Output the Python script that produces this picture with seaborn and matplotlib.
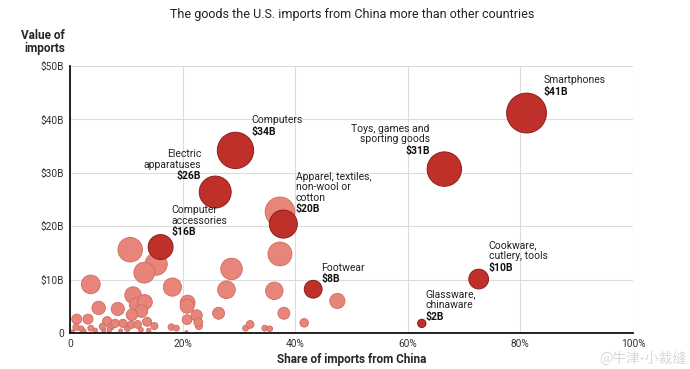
import pandas as pd
import numpy as np
import matplotlib
matplotlib.use("Agg")
import matplotlib.pyplot as plt
import seaborn as sns

# highlighted goods
hl_names = ["Smartphones", "Toys, games and\nsporting goods", "Computers", "Electric\napparatuses",
            "Apparel, textiles,\nnon-wool or\ncotton", "Computer\naccessories", "Footwear",
            "Cookware,\ncutlery, tools", "Glassware,\nchinaware"]
hl_labels = ["$41B", "$31B", "$34B", "$26B", "$20B", "$16B", "$8B", "$10B", "$2B"]
hl_share = [81.1, 66.5, 29.4, 25.8, 37.9, 16.1, 43.2, 72.6, 62.5]
hl_value = [41.2, 30.7, 34.2, 26.4, 20.4, 16.1, 8.2, 10.1, 1.8]
# label anchor (x in %, y boundary between name and value), alignment
lab_x = [84.2, 63.9, 32.3, 23.3, 40.1, 18.1, 44.7, 74.4, 63.2]
lab_y = [46.1, 35.1, 38.7, 30.3, 24.1, 19.8, 11.0, 13.2, 4.0]
lab_ha = ["left", "right", "left", "right", "left", "left", "left", "left", "left"]

# other goods
oth_share = [10.7, 15.3, 13.2, 3.7, 18.2, 11.2, 5.1, 8.5, 11.8, 13.3, 12.7, 11.0, 1.2, 3.2,
             6.6, 9.4, 13.7, 15.0, 18.0, 18.9, 20.9, 20.8, 20.8, 22.5, 22.9, 26.4, 27.8, 28.7,
             31.2, 32.0, 34.6, 35.5, 37.3, 37.3, 36.3, 38.0, 41.6, 47.5, 1.1, 2.0, 3.7, 5.8,
             7.3, 10.8, 12.0, 10.2, 12.6, 20.7, 22.8, 8.0, 4.5, 6.0, 7.0, 9.0, 14.0, 0.5, 2.5]
oth_value = [15.6, 12.9, 11.3, 9.1, 8.6, 7.1, 4.7, 4.5, 5.3, 5.8, 4.1, 3.4, 2.6, 2.6,
             2.2, 1.8, 2.1, 1.3, 1.1, 0.9, 5.7, 5.0, 2.5, 3.3, 1.3, 3.7, 8.1, 12.0,
             0.9, 1.6, 0.9, 0.8, 22.7, 14.8, 7.9, 3.7, 1.9, 6.0, 1.1, 0.8, 0.9, 1.2,
             1.2, 1.5, 1.6, 0.8, 0.6, 0.2, 2.0, 1.8, 0.5, 0.4, 0.6, 0.4, 0.5, 0.3, 0.4]

x_ticks = [0, 20, 40, 60, 80, 100]
x_ticklabels = ["0", "20%", "40%", "60%", "80%", "100%"]
y_ticks = [0, 10, 20, 30, 40, 50]
y_ticklabels = ["0", "$10B", "$20B", "$30B", "$40B", "$50B"]

df_hl = pd.DataFrame({"share": hl_share, "value": hl_value})
df_oth = pd.DataFrame({"share": oth_share, "value": oth_value})

sns.set_style("white")
plt.rcParams["font.family"] = ["Roboto", "DejaVu Sans"]

fig = plt.figure(figsize=(6.9, 3.69), dpi=100)
ax = fig.add_axes([0.1014, 0.0976, 0.8159, 0.7234])

sns.scatterplot(data=df_oth, x="share", y="value", size="value", size_norm=(0, 50),
                sizes=(0, 1000), color="#e8857a", edgecolor="#d06a5e", linewidth=0.6,
                alpha=1, legend=False, ax=ax, zorder=3)
sns.scatterplot(data=df_hl, x="share", y="value", size="value", size_norm=(0, 50),
                sizes=(0, 1000), color="#c0302b", edgecolor="#8a1f1c", linewidth=0.7,
                alpha=1, legend=False, ax=ax, zorder=4)

for i in range(len(hl_names)):
    ax.text(lab_x[i], lab_y[i] + 0.3, hl_names[i], ha=lab_ha[i], va="bottom", fontsize=7.5,
            color="#222222", linespacing=1.05, zorder=5)
    ax.text(lab_x[i], lab_y[i], hl_labels[i], ha=lab_ha[i], va="top", fontsize=7.5,
            fontweight="bold", color="#111111", zorder=5)

ax.set_xlim(0, 100)
ax.set_ylim(0, 50)
ax.set_xticks(x_ticks)
ax.set_xticklabels(x_ticklabels)
ax.set_yticks(y_ticks)
ax.set_yticklabels(y_ticklabels)
ax.tick_params(axis="both", labelsize=7.3, colors="#333333", length=0, pad=4)
ax.grid(True, color="#dcdcdc", linewidth=0.8, zorder=0)
ax.set_axisbelow(True)
for s in ["top", "right"]:
    ax.spines[s].set_visible(False)
for s in ["left", "bottom"]:
    ax.spines[s].set_color("#111111")
    ax.spines[s].set_linewidth(1.3)
    ax.spines[s].set_zorder(6)

ax.set_xlabel("Share of imports from China", fontsize=8.5, fontweight="bold", labelpad=3)
ax.set_ylabel("")
fig.text(0.094, 0.852, "Value of\nimports", ha="right", va="bottom", fontsize=8.5,
         fontweight="bold", linespacing=0.95)
fig.text(0.51, 0.962, "The goods the U.S. imports from China more than other countries",
         ha="center", va="center", fontsize=9, color="#222222")
fig.text(0.995, 0.028, "@牛津-小裁缝", ha="right", va="center", fontsize=10,
         color="#d8d8d8", family=["Noto Sans CJK SC", "DejaVu Sans"])

fig.savefig("out.png", dpi=100)
